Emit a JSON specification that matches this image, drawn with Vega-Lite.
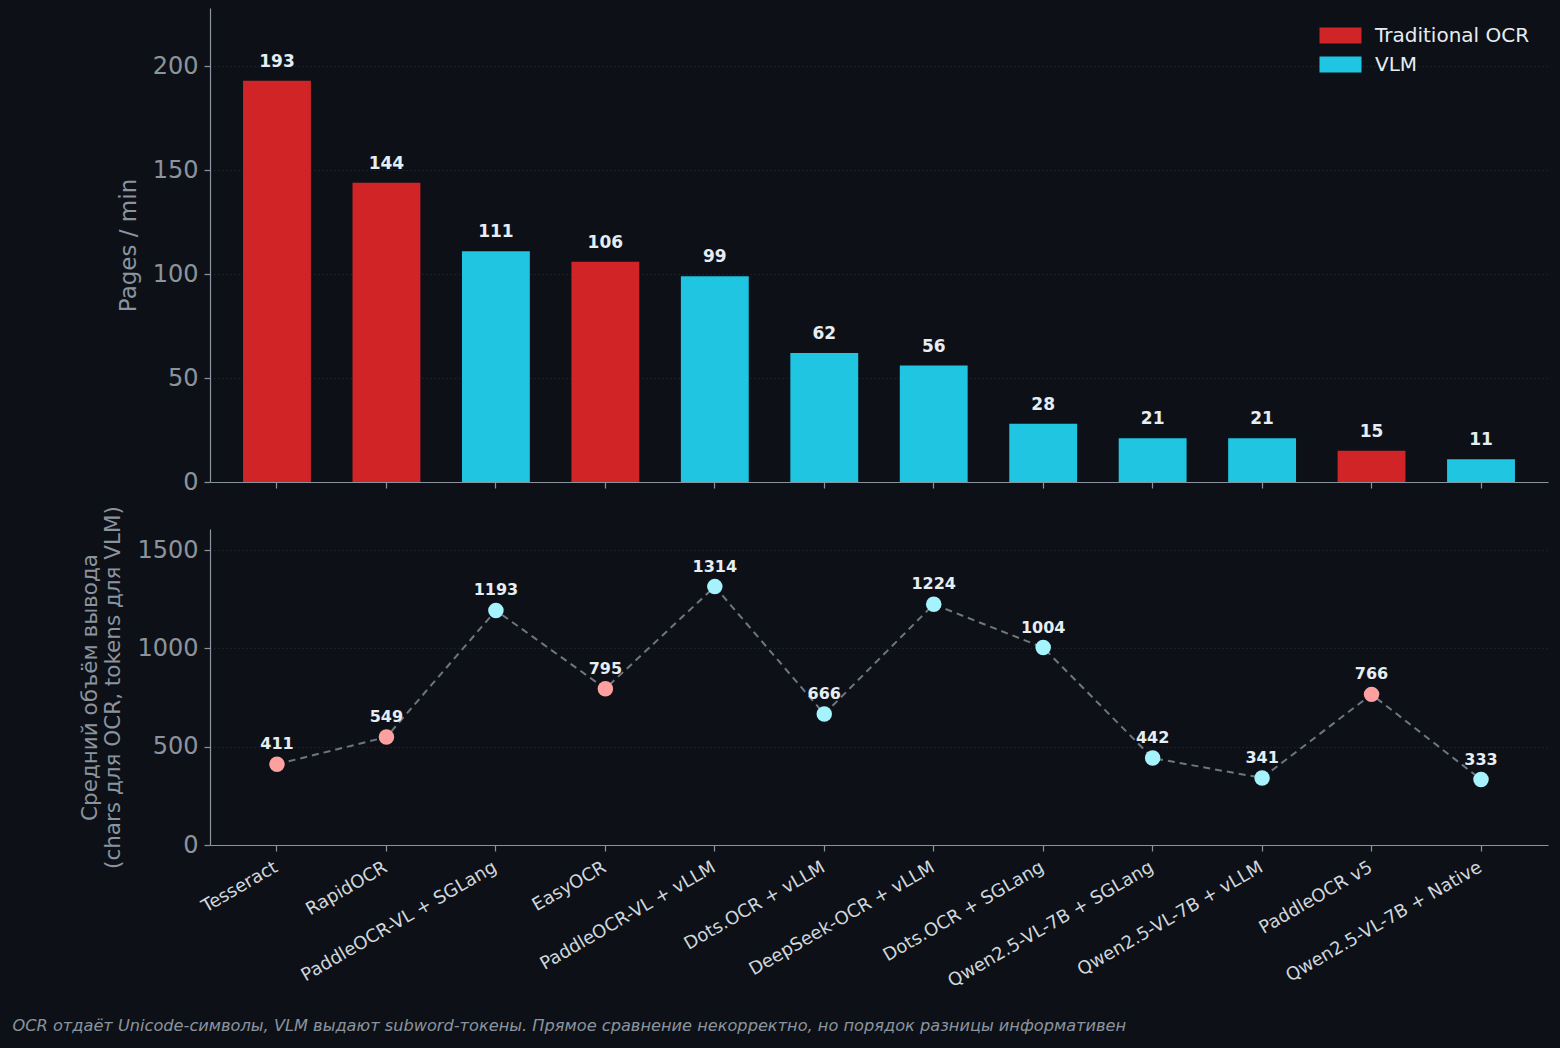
{
  "$schema": "https://vega.github.io/schema/vega-lite/v6.json",
  "background": "#0d1117",
  "padding": {"left": 12, "top": 8, "right": 12, "bottom": 24},
  "datasets": {
    "ocr": [
      {"engine": "Tesseract", "kind": "Traditional OCR", "speed": 193, "output": 411},
      {"engine": "RapidOCR", "kind": "Traditional OCR", "speed": 144, "output": 549},
      {"engine": "PaddleOCR-VL + SGLang", "kind": "VLM", "speed": 111, "output": 1193},
      {"engine": "EasyOCR", "kind": "Traditional OCR", "speed": 106, "output": 795},
      {"engine": "PaddleOCR-VL + vLLM", "kind": "VLM", "speed": 99, "output": 1314},
      {"engine": "Dots.OCR + vLLM", "kind": "VLM", "speed": 62, "output": 666},
      {"engine": "DeepSeek-OCR + vLLM", "kind": "VLM", "speed": 56, "output": 1224},
      {"engine": "Dots.OCR + SGLang", "kind": "VLM", "speed": 28, "output": 1004},
      {"engine": "Qwen2.5-VL-7B + SGLang", "kind": "VLM", "speed": 21, "output": 442},
      {"engine": "Qwen2.5-VL-7B + vLLM", "kind": "VLM", "speed": 21, "output": 341},
      {"engine": "PaddleOCR v5", "kind": "Traditional OCR", "speed": 15, "output": 766},
      {"engine": "Qwen2.5-VL-7B + Native", "kind": "VLM", "speed": 11, "output": 333}
    ]
  },
  "spacing": 11,
  "vconcat": [
    {
      "width": 1338,
      "height": 474,
      "data": {"name": "ocr"},
      "encoding": {
        "x": {
          "field": "engine",
          "type": "nominal",
          "sort": null,
          "scale": {"type": "band", "paddingInner": 0.38, "paddingOuter": 0.302},
          "axis": {"labels": false, "title": null, "grid": false, "domain": true}
        },
        "y": {
          "field": "speed",
          "type": "quantitative",
          "scale": {"domain": [0, 228], "nice": false},
          "axis": {"values": [0, 50, 100, 150, 200], "format": "d", "title": "Pages / min"}
        }
      },
      "layer": [
        {
          "mark": {"type": "bar"},
          "encoding": {
            "color": {
              "field": "kind",
              "type": "nominal",
              "scale": {"domain": ["Traditional OCR", "VLM"], "range": ["#d12426", "#20c5e1"]},
              "legend": {
                "title": null,
                "orient": "none",
                "legendX": 1114,
                "legendY": 11,
                "symbolType": "M-1.3,-0.5H1.3V0.5H-1.3Z",
                "symbolSize": 1044,
                "symbolStrokeWidth": 0,
                "symbolOpacity": 1,
                "labelFont": "DejaVu Sans",
                "labelFontSize": 20,
                "labelColor": "#e6edf3",
                "labelOffset": 18,
                "rowPadding": 2
              }
            }
          }
        },
        {
          "mark": {"type": "text", "dy": -10, "baseline": "bottom", "font": "DejaVu Sans", "fontWeight": "bold", "fontSize": 17, "color": "#e6edf3"},
          "encoding": {"text": {"field": "speed", "type": "quantitative"}}
        }
      ]
    },
    {
      "width": 1338,
      "height": 316,
      "data": {"name": "ocr"},
      "encoding": {
        "x": {
          "field": "engine",
          "type": "nominal",
          "sort": null,
          "scale": {"type": "band", "paddingInner": 0.38, "paddingOuter": 0.302},
          "axis": {
            "labelAngle": -30,
            "labelAlign": "right",
            "labelBaseline": "top",
            "labelColor": "#d0d7de",
            "labelFontSize": 18,
            "labelPadding": 7,
            "labelOffset": -5,
            "labelLimit": 0,
            "grid": false,
            "title": "OCR отдаёт Unicode-символы, VLM выдают subword-токены. Прямое сравнение некорректно, но порядок разницы информативен",
            "titleAnchor": "start",
            "titleAlign": "left",
            "titleBaseline": "alphabetic",
            "titleX": -198,
            "titleY": 185,
            "titleFontStyle": "italic",
            "titleFontSize": 16.2,
            "titleColor": "#8b949e"
          }
        },
        "y": {
          "field": "output",
          "type": "quantitative",
          "scale": {"domain": [0, 1607], "nice": false},
          "axis": {"values": [0, 500, 1000, 1500], "format": "d", "title": ["Средний объём вывода", "(chars для OCR, tokens для VLM)"], "titleFontSize": 21.5}
        }
      },
      "layer": [
        {
          "mark": {"type": "line", "color": "#6e7681", "strokeWidth": 2, "strokeDash": [7, 5]}
        },
        {
          "mark": {"type": "point", "filled": true, "size": 240, "opacity": 1},
          "encoding": {
            "color": {
              "field": "kind",
              "type": "nominal",
              "scale": {"domain": ["Traditional OCR", "VLM"], "range": ["#ffa0a0", "#a5f3fc"]},
              "legend": null
            }
          }
        },
        {
          "mark": {"type": "text", "dy": -12, "baseline": "bottom", "font": "DejaVu Sans", "fontWeight": "bold", "fontSize": 16, "color": "#e6edf3"},
          "encoding": {"text": {"field": "output", "type": "quantitative"}}
        }
      ]
    }
  ],
  "resolve": {"scale": {"color": "independent"}},
  "config": {
    "font": "DejaVu Sans",
    "view": {"stroke": null},
    "axis": {
      "labelFont": "DejaVu Sans",
      "labelFontSize": 24,
      "labelColor": "#8b949e",
      "titleFont": "DejaVu Sans",
      "titleFontSize": 23,
      "titleFontWeight": "normal",
      "titleColor": "#8b949e",
      "titlePadding": 12,
      "domainColor": "#8b949e",
      "domainWidth": 1.2,
      "tickColor": "#8b949e",
      "tickSize": 6,
      "tickWidth": 1.2,
      "gridColor": "#30363d",
      "gridDash": [1, 3],
      "gridWidth": 0.8,
      "labelPadding": 6
    }
  }
}
